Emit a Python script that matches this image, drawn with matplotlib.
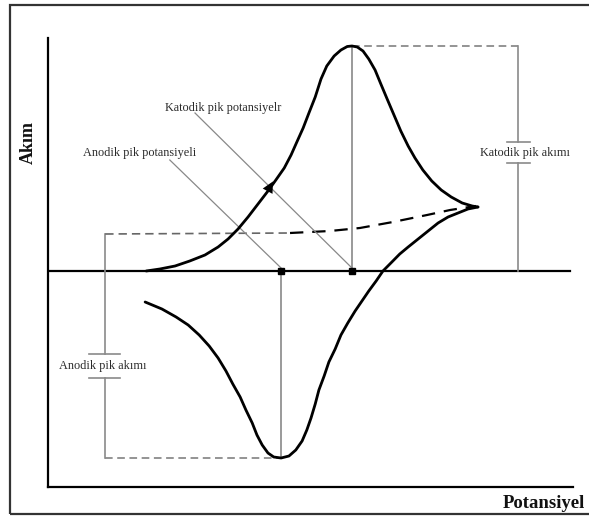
import matplotlib.pyplot as plt
from matplotlib.patches import Rectangle

# potential (arbitrary units) and current (arbitrary units)
e_forward = [18.7, 21.3, 24.2, 27.0, 29.9, 32.4, 34.3, 36.2, 38.1, 40.0, 41.9, 43.4,
             45.0, 46.3, 47.4, 48.6, 49.7, 50.9, 52.0, 53.1, 54.5, 55.8, 57.0, 57.9,
             58.9, 60.0, 61.1, 62.3, 63.4, 64.6, 65.9, 67.2, 68.6, 69.9, 71.4, 73.1,
             74.9, 76.8, 78.9, 80.8, 81.9]
i_forward = [0.0, 0.2, 0.5, 1.0, 1.6, 2.4, 3.2, 4.2, 5.4, 6.7, 8.0, 9.1,
             10.3, 11.6, 12.9, 14.3, 15.8, 17.4, 19.2, 20.5, 21.5, 22.1, 22.45, 22.5,
             22.4, 22.0, 21.2, 20.1, 18.7, 17.2, 15.6, 14.0, 12.5, 11.3, 10.1, 9.0,
             8.1, 7.4, 6.8, 6.5, 6.4]
e_reverse = [81.9, 80.0, 78.1, 76.2, 74.3, 72.4, 70.5, 68.6, 67.0, 65.5, 63.8, 62.5,
             61.1, 59.8, 58.5, 57.1, 55.8, 54.7, 53.5, 52.6, 51.6, 50.9, 50.1, 49.3,
             48.4, 47.2, 45.9, 44.4, 43.0, 41.9, 40.8, 39.8, 38.9, 37.7, 36.6, 35.2,
             33.9, 32.4, 30.7, 28.8, 26.7, 24.4, 21.7, 18.5]
i_reverse = [6.4, 6.2, 5.8, 5.4, 4.8, 4.0, 3.2, 2.4, 1.7, 0.9, 0.0, -1.0,
             -2.0, -3.0, -4.0, -5.2, -6.4, -7.8, -9.1, -10.5, -11.9, -13.3, -14.7, -15.9,
             -17.0, -17.9, -18.5, -18.7, -18.6, -18.2, -17.4, -16.4, -15.2, -13.9, -12.6, -11.3,
             -10.0, -8.7, -7.5, -6.4, -5.4, -4.6, -3.8, -3.1]
# extrapolated baseline
e_base = [10.9, 46.1, 53.7, 59.4, 65.7, 72.2, 76.6, 81.5]
i_base = [3.7, 3.8, 4.0, 4.3, 4.9, 5.6, 6.1, 6.5]

e_pc, i_pc = 57.9, 22.5    # cathodic peak
e_pa, i_pa = 44.4, -18.7   # anodic peak
e_ipc_bar = 89.5
e_ipa_bar = 10.9

serif = 'Liberation Serif'
gray = '#8a8a8a'
txt = '#2a2a2a'

fig = plt.figure(figsize=(5.89, 5.19), dpi=100)
fig.patches.append(Rectangle((10 / 589, 5 / 519), 1.0, 509 / 519, transform=fig.transFigure,
                             fill=False, edgecolor='#333333', lw=1.6))

ax = fig.add_axes([48 / 589, 32 / 519, 525 / 589, 449 / 519])
ax.set_xlim(0, 100)
ax.set_ylim(-21.6, 23.3)
for s in ['top', 'right']:
    ax.spines[s].set_visible(False)
for s in ['left', 'bottom']:
    ax.spines[s].set_linewidth(1.6)
ax.set_xticks([])
ax.set_yticks([])
ax.axhline(0, xmax=0.995, color='black', lw=1.6, zorder=2)

# peak current bars / dashed guides
ax.plot([e_pc, e_pc], [0, i_pc], color='#9a9a9a', lw=1.4, zorder=1)
ax.plot([e_pa, e_pa], [0, i_pa], color='#9a9a9a', lw=1.4, zorder=1)
ax.plot([e_pc, e_ipc_bar], [i_pc, i_pc], color='#777777', lw=1.1, ls=(0, (5, 3)))
ax.plot([e_ipa_bar, e_pa], [i_pa, i_pa], color='#777777', lw=1.1, ls=(0, (5, 3)))
ax.plot([e_ipc_bar, e_ipc_bar], [0, 10.8], color=gray, lw=1.2)
ax.plot([e_ipc_bar, e_ipc_bar], [12.9, i_pc], color=gray, lw=1.2)
ax.plot([87.4, 91.8], [10.8, 10.8], color=gray, lw=1.2)
ax.plot([87.4, 91.8], [12.9, 12.9], color=gray, lw=1.2)
ax.plot([e_ipa_bar, e_ipa_bar], [i_base[0], -8.3], color=gray, lw=1.2)
ax.plot([e_ipa_bar, e_ipa_bar], [-10.7, i_pa], color=gray, lw=1.2)
ax.plot([7.8, 13.7], [-8.3, -8.3], color=gray, lw=1.2)
ax.plot([7.8, 13.7], [-10.7, -10.7], color=gray, lw=1.2)

# baseline
ax.plot(e_base[:2], i_base[:2], color='#666666', lw=1.2, ls=(0, (5, 3)))
ax.plot(e_base[1:], i_base[1:], color='black', lw=1.6, ls=(0, (6, 4)))

# voltammogram
ax.plot(e_forward, i_forward, color='black', lw=2.0, solid_capstyle='round',
        solid_joinstyle='round', zorder=3)
ax.plot(e_reverse, i_reverse, color='black', lw=2.0, solid_capstyle='round',
        solid_joinstyle='round', zorder=3)
ax.annotate('', xy=(43.1, 9.2), xytext=(40.4, 6.6),
            arrowprops=dict(arrowstyle='-|>', color='black', lw=0, mutation_scale=20))
ax.plot([e_pc, e_pa], [0, 0], ls='none', marker='s', ms=5, color='black', zorder=4)

# leader lines and labels
ax.plot([28.0, e_pc], [15.8, 0.3], color='#888888', lw=0.9)
ax.plot([23.2, e_pa], [11.1, 0.3], color='#888888', lw=0.9)
ax.text(33.3, 16.3, 'Katodik pik potansiyelr', family=serif, fontsize=8.8, color=txt,
        ha='center', va='center')
ax.text(17.5, 11.8, 'Anodik pik potansiyeli', family=serif, fontsize=8.8, color=txt,
        ha='center', va='center')
ax.text(90.9, 11.8, 'Katodik pik akımı', family=serif, fontsize=8.8, color=txt,
        ha='center', va='center')
ax.text(10.4, -9.5, 'Anodik pik akımı', family=serif, fontsize=8.8, color=txt,
        ha='center', va='center')

fig.text(28 / 589, 1 - 142 / 519, 'Akım', family=serif, fontweight='bold', fontsize=13,
         rotation=90, ha='center', va='center', color='#111111')
fig.text(503 / 589, 1 - 508 / 519, 'Potansiyel', family=serif, fontweight='bold',
         fontsize=13.5, ha='left', va='baseline', color='#111111')

fig.savefig('out.png', dpi=100)
